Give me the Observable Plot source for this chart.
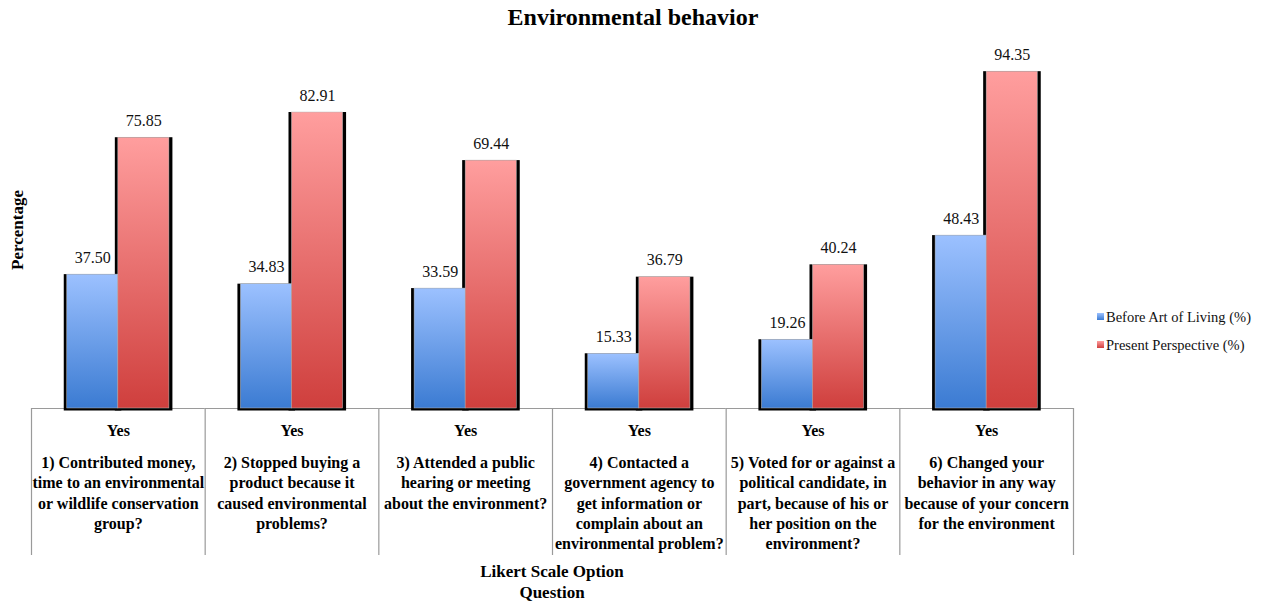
<!DOCTYPE html>
<html>
<head>
<meta charset="utf-8">
<script src="https://cdn.jsdelivr.net/npm/d3@7"></script>
<script src="https://cdn.jsdelivr.net/npm/@observablehq/plot@0.6"></script>
<style>
  html, body { margin: 0; padding: 0; background: #fff; }
  #wrap { position: relative; width: 1266px; height: 604px; font-family: "Liberation Serif", "Times New Roman", serif; color: #000; }
  #wrap svg { position: absolute; left: 0; top: 0; }
  .title { position: absolute; left: 0; width: 1266px; top: 4px; text-align: center; font-weight: bold; font-size: 24px; }
  .ylab { position: absolute; left: 18px; top: 230px; transform: translate(-50%, -50%) rotate(-90deg); font-weight: bold; font-size: 17px; white-space: nowrap; }
  .xlab { position: absolute; left: 452px; width: 200px; top: 561px; text-align: center; font-weight: bold; font-size: 17px; line-height: 21px; }
  .legend { position: absolute; left: 1097px; top: 308px; font-size: 14.5px; color: #111; }
  .legend div { height: 28px; line-height: 18px; white-space: nowrap; }
  .legend span.sw { display: inline-block; width: 7px; height: 7px; margin-right: 2px; vertical-align: 2px; }
</style>
</head>
<body>
<div id="wrap">
  <div class="title">Environmental behavior</div>
  <div class="ylab">Percentage</div>
  <div class="xlab">Likert Scale Option<br>Question</div>
  <div class="legend" id="legend"></div>
</div>
<script>
// ---- data ----
const questions = [
  "1) Contributed money,\ntime to an environmental\nor wildlife conservation\ngroup?",
  "2) Stopped buying a\nproduct because it\ncaused environmental\nproblems?",
  "3) Attended a public\nhearing or meeting\nabout the environment?",
  "4) Contacted a\ngovernment agency to\nget information or\ncomplain about an\nenvironmental problem?",
  "5) Voted for or against a\npolitical candidate, in\npart, because of his or\nher position on the\nenvironment?",
  "6) Changed your\nbehavior in any way\nbecause of your concern\nfor the environment"
];
const option = "Yes";
const series = ["Before Art of Living (%)", "Present Perspective (%)"];
const beforeValues = [37.50, 34.83, 33.59, 15.33, 19.26, 48.43];
const presentValues = [75.85, 82.91, 69.44, 36.79, 40.24, 94.35];

// ---- table ----
const rows = [];
questions.forEach((q, i) => {
  rows.push({q, series: series[0], value: beforeValues[i]});
  rows.push({q, series: series[1], value: presentValues[i]});
});

// ---- layout ----
const W = 1266, H = 604;
const mL = 31, mR = 193, mT = 51, mB = 196;
const bw = (W - mL - mR) / questions.length;
const gray = "#9a9a9a";

const plot = Plot.plot({
  width: W,
  height: H,
  marginLeft: mL,
  marginRight: mR,
  marginTop: mT,
  marginBottom: mB,
  style: {fontFamily: "'Liberation Serif', 'Times New Roman', serif", color: "#000", background: "transparent", overflow: "visible"},
  fx: {domain: questions, padding: 0, round: false, axis: null},
  x: {domain: series, paddingInner: 0, paddingOuter: 0.7, round: false, axis: null},
  y: {domain: [0, 100], axis: null},
  color: {domain: series, range: ["url(#gBlue)", "url(#gRed)"]},
  marks: [
    Plot.ruleY([0], {stroke: gray, strokeWidth: 1.2}),
    Plot.ruleX(questions, {fx: d => d, x: null, y1: 0, y2: 0, insetBottom: -147, dx: -bw / 2, stroke: gray, strokeWidth: 1.2}),
    Plot.ruleX([questions[questions.length - 1]], {fx: d => d, x: null, y1: 0, y2: 0, insetBottom: -147, dx: bw / 2, stroke: gray, strokeWidth: 1.2}),
    Plot.barY(rows, {fx: "q", x: "series", y: "value", fill: "#000", insetLeft: -3, insetRight: -3.5, insetBottom: -2.5}),
    Plot.barY(rows, {fx: "q", x: "series", y: "value", fill: "series", stroke: "#bbb", strokeWidth: 0.5}),
    Plot.text(rows, {fx: "q", x: "series", y: "value", text: d => d.value.toFixed(2), lineAnchor: "bottom", dy: -12, fontSize: 16, fill: "#111"}),
    Plot.text(questions, {fx: d => d, frameAnchor: "bottom", text: () => option, lineAnchor: "middle", dy: 22, fontSize: 16, fontWeight: "bold"}),
    Plot.text(questions, {fx: d => d, frameAnchor: "bottom", text: d => d, lineAnchor: "top", dy: 45, fontSize: 16, fontWeight: "bold", lineHeight: 1.27})
  ]
});

d3.select(plot).insert("defs", ":first-child").html(`
  <linearGradient id="gBlue" x1="0" y1="0" x2="0" y2="1">
    <stop offset="0" stop-color="#9cc1ff"/>
    <stop offset="1" stop-color="#3b7bd2"/>
  </linearGradient>
  <linearGradient id="gRed" x1="0" y1="0" x2="0" y2="1">
    <stop offset="0" stop-color="#ff9e9e"/>
    <stop offset="1" stop-color="#cf3f3d"/>
  </linearGradient>`);

document.getElementById("wrap").prepend(plot);

const grads = ["linear-gradient(#9cc1ff,#3b7bd2)", "linear-gradient(#ff9e9e,#cf3f3d)"];
const leg = document.getElementById("legend");
series.forEach((s, i) => {
  const row = document.createElement("div");
  row.innerHTML = `<span class="sw" style="background:${grads[i]}"></span>${s}`;
  leg.appendChild(row);
});
</script>
</body>
</html>
